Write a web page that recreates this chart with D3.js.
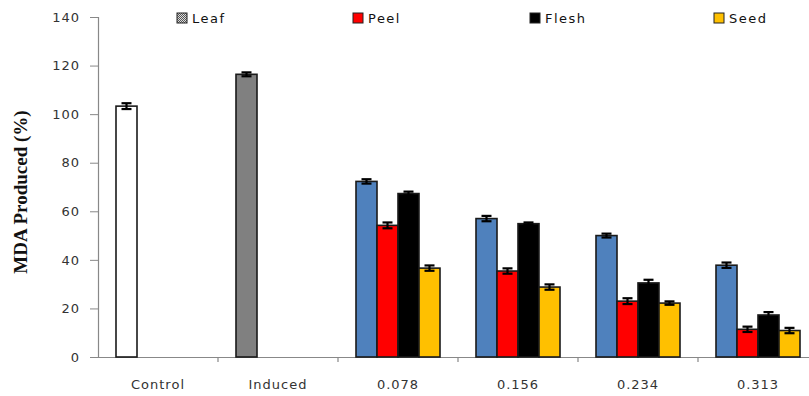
<!DOCTYPE html>
<html><head><meta charset="utf-8">
<script src="https://cdn.jsdelivr.net/npm/d3@7"></script>
<style>body{margin:0;background:#fff}svg{display:block}</style>
</head><body>
<svg id="c" width="809" height="396"></svg>
<script>
const categories = ["Control","Induced","0.078","0.156","0.234","0.313"];
const seriesNames = ["Leaf","Peel","Flesh","Seed"];
const seriesColors = ["#4F81BD","#FF0000","#000000","#FFC000"];
// values per series, per category (null = no bar)
const leaf  = [103.3, 116.4, 72.3, 57.0, 50.0, 37.8];
const peel  = [null, null, 54.2, 35.4, 23.0, 11.4];
const flesh = [null, null, 67.3, 54.9, 30.5, 17.3];
const seed  = [null, null, 36.6, 28.8, 22.2, 10.9];
const leafErr  = [1.2, 0.8, 0.9, 1.1, 0.8, 1.1];
const peelErr  = [0, 0, 1.2, 1.1, 1.2, 1.1];
const fleshErr = [0, 0, 0.8, 0.5, 1.3, 1.2];
const seedErr  = [0, 0, 1.1, 1.1, 0.7, 1.1];
const leafFill = ["#FFFFFF","#808080","#4F81BD","#4F81BD","#4F81BD","#4F81BD"];
const yTicks = [0,20,40,60,80,100,120,140];

const values = [leaf, peel, flesh, seed];
const errs = [leafErr, peelErr, fleshErr, seedErr];

const svg = d3.select("#c");
const x0 = 98, yBase = 357, yTop = 17;
const step = 120;
const x = d3.scaleBand().domain(categories).range([x0, x0 + step*categories.length]).paddingInner(0).paddingOuter(0);
const y = d3.scaleLinear().domain([0,140]).range([yBase, yTop]);
const xs = d3.scaleBand().domain(seriesNames).range([0, 84]);

// pattern for legend Leaf
const defs = svg.append("defs");
const pat = defs.append("pattern").attr("id","chk").attr("width",2).attr("height",2).attr("patternUnits","userSpaceOnUse");
pat.append("rect").attr("width",2).attr("height",2).attr("fill","#ddd");
pat.append("rect").attr("width",1).attr("height",1).attr("fill","#555");
pat.append("rect").attr("x",1).attr("y",1).attr("width",1).attr("height",1).attr("fill","#555");

const tickFont = "DejaVu Sans, Verdana, sans-serif";
// y axis
const yAxis = svg.append("g").attr("transform",`translate(${x0},0)`)
  .call(d3.axisLeft(y).tickValues(yTicks).tickSize(8).tickPadding(10));
yAxis.select(".domain").attr("stroke","#888").attr("stroke-width",1.2);
yAxis.selectAll(".tick line").attr("stroke","#888");
yAxis.selectAll(".tick text").attr("fill","#333").style("font-family",tickFont).style("font-size","13px").style("letter-spacing","1px");

// x axis
const xAxis = svg.append("g").attr("transform",`translate(0,${yBase})`)
  .call(d3.axisBottom(x).tickSize(0).tickPadding(23));
xAxis.select(".domain").attr("stroke","#888").attr("stroke-width",1.2);
xAxis.selectAll(".tick text").attr("fill","#333").style("font-family",tickFont).style("font-size","13px").style("letter-spacing","1px");
// boundary ticks
const bounds = categories.map(c => x(c)).concat([x0 + step*categories.length]);
svg.append("g").selectAll("line").data(bounds.slice(1)).join("line")
  .attr("x1",d=>d).attr("x2",d=>d).attr("y1",yBase).attr("y2",yBase+5)
  .attr("stroke","#888").attr("stroke-width",1.2);

// bars
const barW = xs.bandwidth();
const gOff = (step - 84)/2;
seriesNames.forEach((s, si) => {
  const data = categories.map((c, ci) => ({c, ci, v: values[si][ci], e: errs[si][ci]})).filter(d => d.v != null);
  const g = svg.append("g");
  g.selectAll("rect").data(data).join("rect")
    .attr("x", d => x(d.c) + gOff + xs(s))
    .attr("y", d => y(d.v))
    .attr("width", barW)
    .attr("height", d => yBase - y(d.v))
    .attr("fill", d => si === 0 ? leafFill[d.ci] : seriesColors[si])
    .attr("stroke", "#1a1a1a").attr("stroke-width", 1.6);
  // error bars
  const eg = svg.append("g").attr("stroke","#000").attr("stroke-width",2.2);
  data.forEach(d => {
    const cx = x(d.c) + gOff + xs(s) + barW/2;
    eg.append("line").attr("x1",cx).attr("x2",cx).attr("y1",y(d.v+d.e)).attr("y2",y(d.v-d.e));
    eg.append("line").attr("x1",cx-5).attr("x2",cx+5).attr("y1",y(d.v+d.e)).attr("y2",y(d.v+d.e));
    eg.append("line").attr("x1",cx-5).attr("x2",cx+5).attr("y1",y(d.v-d.e)).attr("y2",y(d.v-d.e));
  });
});

// legend
const legX = [177, 353, 530, 714];
const leg = svg.append("g");
seriesNames.forEach((s, i) => {
  leg.append("rect").attr("x", legX[i]).attr("y", 13).attr("width", 10).attr("height", 10)
    .attr("fill", i === 0 ? "url(#chk)" : seriesColors[i]).attr("stroke","#222").attr("stroke-width",1);
  leg.append("text").attr("x", legX[i] + 15).attr("y", 23).text(s)
    .attr("fill","#111").style("font-family",tickFont).style("font-size","13px").style("letter-spacing","1.5px");
});

// y label
svg.append("text").attr("transform","translate(27,192) rotate(-90)").attr("text-anchor","middle")
  .text("MDA Produced (%)").style("font-family","Liberation Serif, Times New Roman, serif")
  .style("font-size","19px").style("font-weight","bold").attr("fill","#111");
</script>
</body></html>
